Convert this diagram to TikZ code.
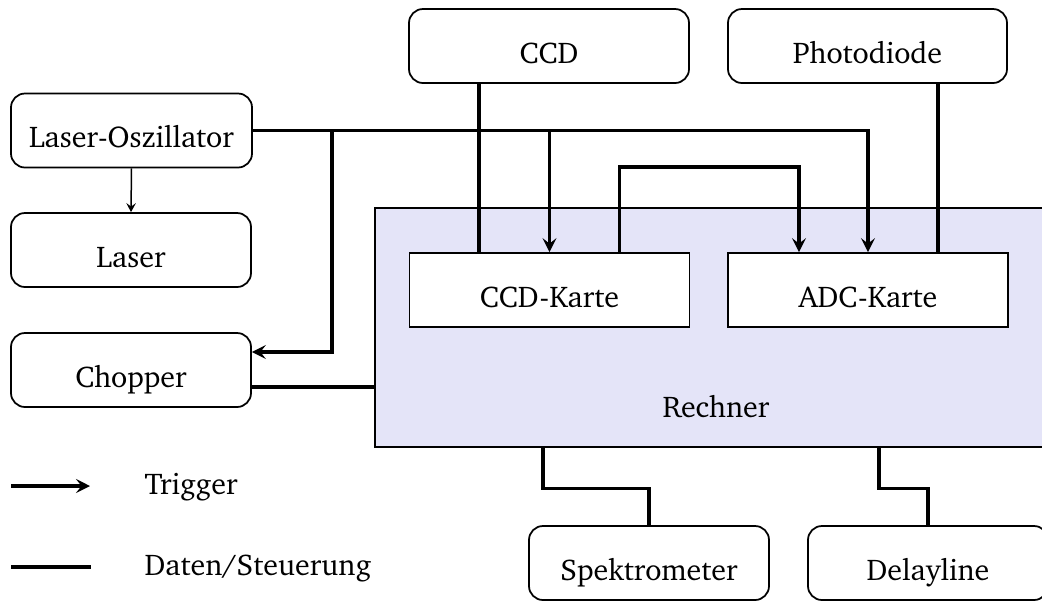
\documentclass[tikz,border=0pt]{standalone}
\usepackage[T1]{fontenc}
\usepackage{charter}
\usetikzlibrary{calc,arrows.meta}
\definecolor{rechnerfill}{RGB}{228,228,248}
\tikzset{
  dev/.style={draw, line width=0.7pt, rounded corners=5.6pt, fill=white,
    minimum width=96pt, minimum height=29.6pt, inner sep=0pt,
    text height=13.6pt, text depth=0pt},
  card/.style={draw, line width=0.7pt, fill=white,
    minimum width=112pt, minimum height=29.6pt, inner sep=0pt,
    text height=13.6pt, text depth=0pt},
  pcbox/.style={draw, line width=0.6pt, fill=rechnerfill,
    minimum width=270.4pt, minimum height=95.6pt, inner sep=0pt},
  lbl/.style={inner sep=0pt},
  data/.style={line width=1.4pt},
  trig/.style={line width=1.4pt, -{Stealth[length=5.6pt, width=5.6pt, inset=2.2pt]}},
  thinarrow/.style={line width=0.6pt, -{Stealth[length=3.6pt, width=3.8pt, inset=1.4pt]}},
}
\begin{document}
\begin{tikzpicture}[x=0.4pt, y=-0.4pt, font=\fontsize{12}{14}\selectfont]
  \clip (0,0) rectangle (1042,601);

  % computer with its two interface cards
  \node[pcbox, anchor=north west] (rechner) at (374,207) {};
  \node[lbl, anchor=base] (rechnerlabel) at (716,417) {Rechner};
  \node[card] (ccdk) at (549.5,290) {CCD-Karte};
  \node[card] (adck) at (868,290) {ADC-Karte};

  % devices
  \node[dev, minimum width=96.4pt] (osc) at (131.5,130.5) {Laser-Oszillator};
  \node[dev] (laser) at (131,250) {Laser};
  \node[dev] (chopper) at (131,370) {Chopper};
  \node[dev, minimum width=112pt] (ccd) at (549,46) {CCD};
  \node[dev, minimum width=111.6pt] (photo) at (867.5,46) {Photodiode};
  \node[dev] (spek) at (649,563) {Spektrometer};
  \node[dev] (delay) at (928,563) {Delayline};

  % trigger lines
  \draw[thinarrow] (osc.south) -- (laser.north);
  \draw[trig] (osc.east) -| (adck.north);
  \draw[trig] (osc.east -| ccdk.north) -- (ccdk.north);
  \path (osc.east) ++(79,0) coordinate (cbr);
  \draw[trig] (cbr) |- ($(chopper.east)+(0,-18)$);
  \draw[trig] ($(ccdk.north)+(70,0)$) -- ++(0,-85) -| ($(adck.north)+(-69,0)$);

  % data / control lines
  \draw[data] ($(ccd.south)+(-70,0)$) coordinate (c1) -- (c1 |- ccdk.north);
  \draw[data] ($(photo.south)+(70.5,0)$) coordinate (p1) -- (p1 |- adck.north);
  \draw[data] ($(chopper.east)+(0,17)$) coordinate (ch1) -- (ch1 -| rechner.west);
  \draw[data] ($(rechner.south west)+(169,0)$) -- ++(0,41) -| (spek.north);
  \draw[data] ($(rechner.south west)+(505,0)$) -- ++(0,41) -| (delay.north);

  % legend
  \coordinate (lt0) at (11,486);
  \coordinate (lt1) at (90,486);
  \draw[trig] (lt0) -- (lt1);
  \node[lbl, anchor=base west] (ltrig) at (144,494) {Trigger};
  \coordinate (ld0) at (11,567);
  \coordinate (ld1) at (91,567);
  \draw[data] (ld0) -- (ld1);
  \node[lbl, anchor=base west] (ldata) at (144,575) {Daten/Steuerung};
\end{tikzpicture}
\end{document}
